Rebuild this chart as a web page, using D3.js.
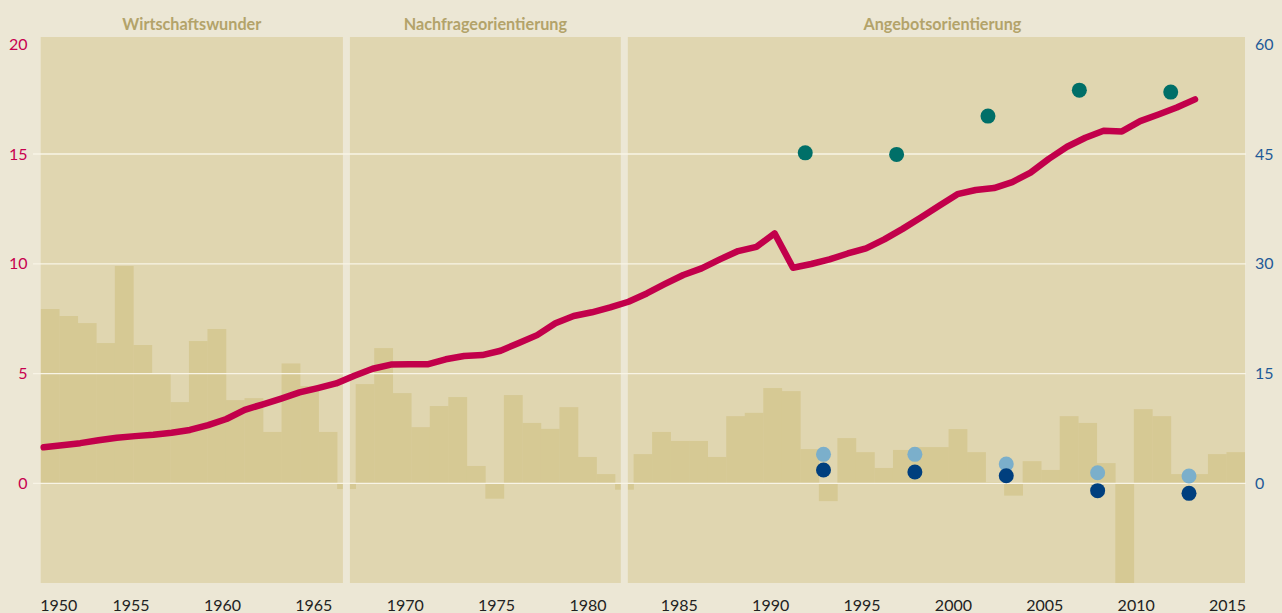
<!DOCTYPE html>
<html><head><meta charset="utf-8">
<script src="https://cdn.jsdelivr.net/npm/d3@7"></script>
<style>
html,body{margin:0;padding:0;background:#ECE7D5;}
svg{display:block;font-family:Lato,"Open Sans",sans-serif;}
</style></head>
<body><svg id="chart" width="1282" height="613"></svg>
<script>
// ---- data ----
const barYears = d3.range(1951, 2016);
const barValues = [7.94,7.62,7.30,6.39,9.90,6.30,5.00,3.70,6.48,7.03,3.79,3.88,2.34,5.46,4.43,2.34,-0.26,
  4.52,6.16,4.11,2.56,3.52,3.93,0.79,-0.70,4.02,2.75,2.48,3.47,1.20,0.42,-0.29,
  1.33,2.34,1.93,1.93,1.20,3.06,3.21,4.34,4.20,1.56,-0.81,2.06,1.42,0.70,1.52,1.65,1.65,2.47,1.42,0.05,-0.56,
  1.01,0.61,3.06,2.75,0.92,-5.0,3.38,3.06,0.42,0.42,1.33,1.42];
const lineYears = d3.range(1950, 2014);
const lineValues = [1.64,1.73,1.83,1.96,2.08,2.15,2.21,2.30,2.43,2.65,2.93,3.35,3.60,3.86,4.14,4.34,4.55,4.90,5.22,5.41,5.42,5.42,5.65,5.80,5.84,6.04,6.39,6.75,7.29,7.62,7.79,8.01,8.27,8.65,9.08,9.49,9.79,10.20,10.58,10.77,11.38,
  9.82,9.99,10.20,10.47,10.70,11.11,11.59,12.11,12.64,13.17,13.36,13.45,13.72,14.15,14.78,15.33,15.74,16.06,16.03,16.50,16.80,17.12,17.49];
const greenYears = [1992,1997,2002,2007,2012];
const greenValues = [45.16,44.95,50.18,53.73,53.46];
const blueYears = [1993,1998,2003,2008,2013];
const lightBlueValues = [3.96,3.96,2.64,1.45,1.00];
const darkBlueValues = [1.82,1.54,1.04,-1.00,-1.37];
const leftTicks = [0,5,10,15,20];
const rightTicks = [0,15,30,45,60];
const gridTicks = [0,5,10,15];
const xTicks = [1950,1955,1960,1965,1970,1975,1980,1985,1990,1995,2000,2005,2010,2015];
const eras = ["Wirtschaftswunder","Nachfrageorientierung","Angebotsorientierung"];
const eraBreakYears = [1967,1982];

// ---- layout ----
const svg = d3.select("#chart");
const plotL = 40.7, plotR = 1245, plotT = 37, plotB = 583;
const C = {bg:"#ECE7D5", panel:"#E0D6B0", bar:"#D6C994", grid:"#F8F4E6", line:"#C2004B",
  green:"#006F68", light:"#7BAFCB", dark:"#003F7E", left:"#C8004F", right:"#1F5A97", title:"#B3A36A", tick:"#222"};

const xb = d3.scaleBand().domain(barYears).range([plotL, plotR]).paddingInner(0).paddingOuter(0);
const x = d3.scaleLinear().domain([1950, 2013]).range([43.7, 1195.0]);
const y = d3.scaleLinear().domain([-4.54, 20.33]).range([plotB, plotT]);
const y2 = d3.scaleLinear().domain([-4.54*3, 20.33*3]).range([plotB, plotT]);
const dotShift = -6, labelShift = -4, gap = 7;

svg.append("rect").attr("width",1282).attr("height",613).attr("fill",C.bg);
svg.append("defs").append("clipPath").attr("id","clip").append("rect")
  .attr("x",plotL).attr("y",plotT).attr("width",plotR-plotL).attr("height",plotB-plotT);
svg.append("rect").attr("x",plotL).attr("y",plotT).attr("width",plotR-plotL).attr("height",plotB-plotT).attr("fill",C.panel);

svg.append("g").attr("clip-path","url(#clip)").selectAll("rect").data(barYears).join("rect")
  .attr("x", d=>xb(d)).attr("width", xb.bandwidth()+0.3)
  .attr("y", (d,i)=>y(Math.max(0,barValues[i])))
  .attr("height", (d,i)=>Math.abs(y(barValues[i])-y(0)))
  .attr("fill", C.bar);

// era gaps
const breaks = eraBreakYears.map(yr => xb(yr)+xb.bandwidth()/2);
svg.append("g").selectAll("rect").data(breaks).join("rect")
  .attr("x", d=>d-gap/2).attr("width",gap).attr("y",plotT).attr("height",plotB-plotT).attr("fill",C.bg);

// era titles
const edges = [plotL, ...breaks, plotR];
svg.append("g").selectAll("text").data(eras).join("text")
  .attr("x",(d,i)=>(edges[i]+(i>0?gap/2:0) + edges[i+1]-(i<2?gap/2:0))/2 + (i===2?6:0))
  .attr("y",29.5).attr("text-anchor","middle").attr("font-size",16.2).attr("font-weight",700)
  .attr("fill",C.title).text(d=>d);

// grid
svg.append("g").selectAll("line").data(gridTicks).join("line")
  .attr("x1",33).attr("x2",1246).attr("y1",d=>y(d)).attr("y2",d=>y(d))
  .attr("stroke",C.grid).attr("stroke-width",1.3);

// left axis
svg.append("g").selectAll("text").data(leftTicks).join("text")
  .attr("x",27.5).attr("y",d=>y(d)).attr("dy","0.35em").attr("text-anchor","end")
  .attr("font-size",16).attr("fill",C.left).text(d=>d);
// right axis
svg.append("g").selectAll("text").data(rightTicks).join("text")
  .attr("x",1255).attr("y",d=>y2(d)).attr("dy","0.35em").attr("text-anchor","start")
  .attr("font-size",16).attr("fill",C.right).text(d=>d);
// x axis labels
svg.append("g").selectAll("text").data(xTicks).join("text")
  .attr("x",(d,i)=> i===0 ? plotL-0.5 : x(d)+labelShift)
  .attr("y",610.5).attr("text-anchor",(d,i)=>i===0?"start":"middle")
  .attr("font-size",16).attr("fill",C.tick).text(d=>d);

// line
const lineGen = d3.line().x((d,i)=>x(lineYears[i])).y(d=>y(d));
svg.append("path").datum(lineValues).attr("d",lineGen).attr("fill","none")
  .attr("stroke",C.line).attr("stroke-width",6.5).attr("stroke-linejoin","round").attr("stroke-linecap","round");

// dots
const r = 7.5;
svg.append("g").selectAll("circle").data(greenValues).join("circle")
  .attr("cx",(d,i)=>x(greenYears[i])+dotShift).attr("cy",d=>y2(d)).attr("r",r).attr("fill",C.green);
svg.append("g").selectAll("circle").data(lightBlueValues).join("circle")
  .attr("cx",(d,i)=>x(blueYears[i])+dotShift).attr("cy",d=>y2(d)).attr("r",r).attr("fill",C.light);
svg.append("g").selectAll("circle").data(darkBlueValues).join("circle")
  .attr("cx",(d,i)=>x(blueYears[i])+dotShift).attr("cy",d=>y2(d)).attr("r",r).attr("fill",C.dark);
</script></body></html>
